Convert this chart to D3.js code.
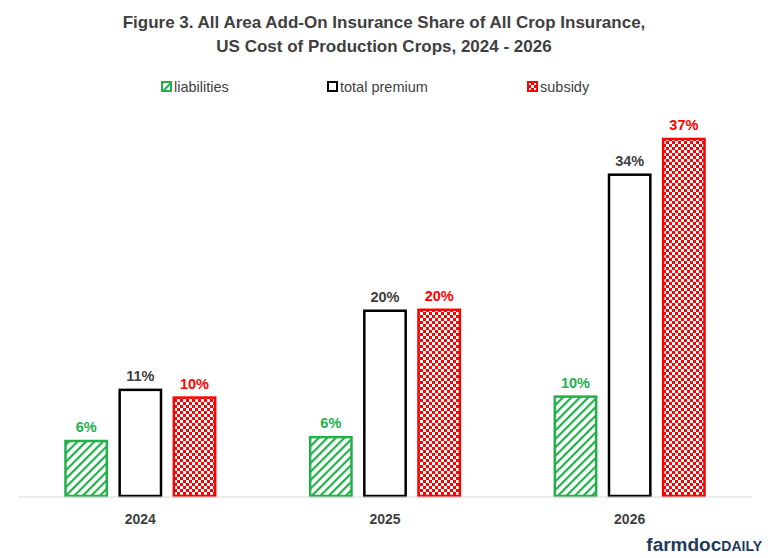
<head>
  <script src="https://cdnjs.cloudflare.com/ajax/libs/d3/7.8.5/d3.min.js"></script>
  <style>body { margin: 0; background: #fff }</style>
</head>
<body>
  <div id="chart"></div>
  <script>
    const years = ['2024', '2025', '2026'];
    const seriesNames = ['liabilities', 'total premium', 'subsidy'];
    const liabilities = [5.7, 6.1, 10.3];
    const totalPremium = [11.0, 19.2, 33.3];
    const subsidy = [10.2, 19.3, 37.0];
    const labels = [['6%', '6%', '10%'], ['11%', '20%', '34%'], ['10%', '20%', '37%']];

    const values = [liabilities, totalPremium, subsidy];
    const colors = ['#22b04b', '#000', '#ff0000'];
    const labelColors = ['#22b04b', '#404040', '#ff0000'];
    const fills = ['url(#hatch)', '#fff', 'url(#checker)'];

    const width = 768, height = 558;
    const svg = d3.select('#chart').append('svg')
      .attr('width', width).attr('height', height)
      .style('font-family', 'Arial, Liberation Sans, sans-serif');

    const defs = svg.append('defs');
    const hatch = defs.append('pattern').attr('id', 'hatch')
      .attr('patternUnits', 'userSpaceOnUse').attr('width', 6).attr('height', 6)
      .attr('patternTransform', 'rotate(45)');
    hatch.append('rect').attr('width', 6).attr('height', 6).attr('fill', '#fff');
    hatch.append('rect').attr('width', 2.2).attr('height', 6).attr('fill', '#22b04b');
    const checker = defs.append('pattern').attr('id', 'checker')
      .attr('patternUnits', 'userSpaceOnUse').attr('width', 6).attr('height', 6);
    checker.append('rect').attr('width', 6).attr('height', 6).attr('fill', '#ff0000');
    checker.append('rect').attr('width', 3).attr('height', 3).attr('fill', '#fff');
    checker.append('rect').attr('x', 3).attr('y', 3).attr('width', 3).attr('height', 3).attr('fill', '#fff');

    const x0 = d3.scaleBand().domain(years).range([18, 752]).paddingInner(0.38).paddingOuter(0.19);
    const x1 = d3.scaleBand().domain(seriesNames).range([0, x0.bandwidth()]).paddingInner(0.2);
    const y = d3.scaleLinear().domain([0, 37]).range([496, 139]);

    // title
    svg.append('text').attr('x', 384).attr('y', 28).attr('text-anchor', 'middle')
      .attr('font-size', 17).attr('font-weight', 'bold').attr('fill', '#404040')
      .text('Figure 3.  All Area Add-On Insurance  Share of All Crop Insurance,');
    svg.append('text').attr('x', 384).attr('y', 52).attr('text-anchor', 'middle')
      .attr('font-size', 17).attr('font-weight', 'bold').attr('fill', '#404040')
      .text('US Cost of Production  Crops, 2024 - 2026');

    // legend
    const legX = [162, 328, 528];
    seriesNames.forEach((s, i) => {
      const g = svg.append('g').attr('transform', `translate(${legX[i]},82)`);
      g.append('rect').attr('width', 9).attr('height', 9).attr('fill', fills[i])
        .attr('stroke', colors[i]).attr('stroke-width', 2);
      g.append('text').attr('x', 12).attr('y', 10).attr('font-size', 14.5)
        .attr('fill', '#404040').text(s);
    });

    // bars
    years.forEach((yr, j) => {
      seriesNames.forEach((s, i) => {
        const v = values[i][j];
        const bx = x0(yr) + x1(s);
        svg.append('rect').attr('x', bx + 1).attr('y', y(v))
          .attr('width', x1.bandwidth() - 2).attr('height', y(0) - y(v))
          .attr('fill', fills[i]).attr('stroke', colors[i]).attr('stroke-width', 2.5);
        svg.append('text').attr('x', bx + x1.bandwidth() / 2).attr('y', y(v) - 9)
          .attr('text-anchor', 'middle').attr('font-size', 14.5).attr('font-weight', 'bold')
          .attr('fill', labelColors[i]).text(labels[i][j]);
      });
    });

    // axis
    const axis = svg.append('g').attr('transform', 'translate(0,497)')
      .call(d3.axisBottom(x0).tickSize(0).tickPadding(17));
    axis.select('.domain').attr('stroke', '#d9d9d9').attr('d', 'M18,0H752');
    axis.selectAll('text').attr('font-size', 14).attr('font-weight', 'bold')
      .attr('fill', '#404040').style('font-family', 'Arial, Liberation Sans, sans-serif');

    // logo
    const logo = svg.append('text').attr('x', 762).attr('y', 551).attr('text-anchor', 'end')
      .attr('font-size', 19).attr('fill', '#1f3a5a');
    logo.append('tspan').attr('font-weight', 'bold').text('farmdoc');
    logo.append('tspan').attr('font-size', 14).attr('font-weight', 'bold').text('DAILY');
  </script>
</body>
